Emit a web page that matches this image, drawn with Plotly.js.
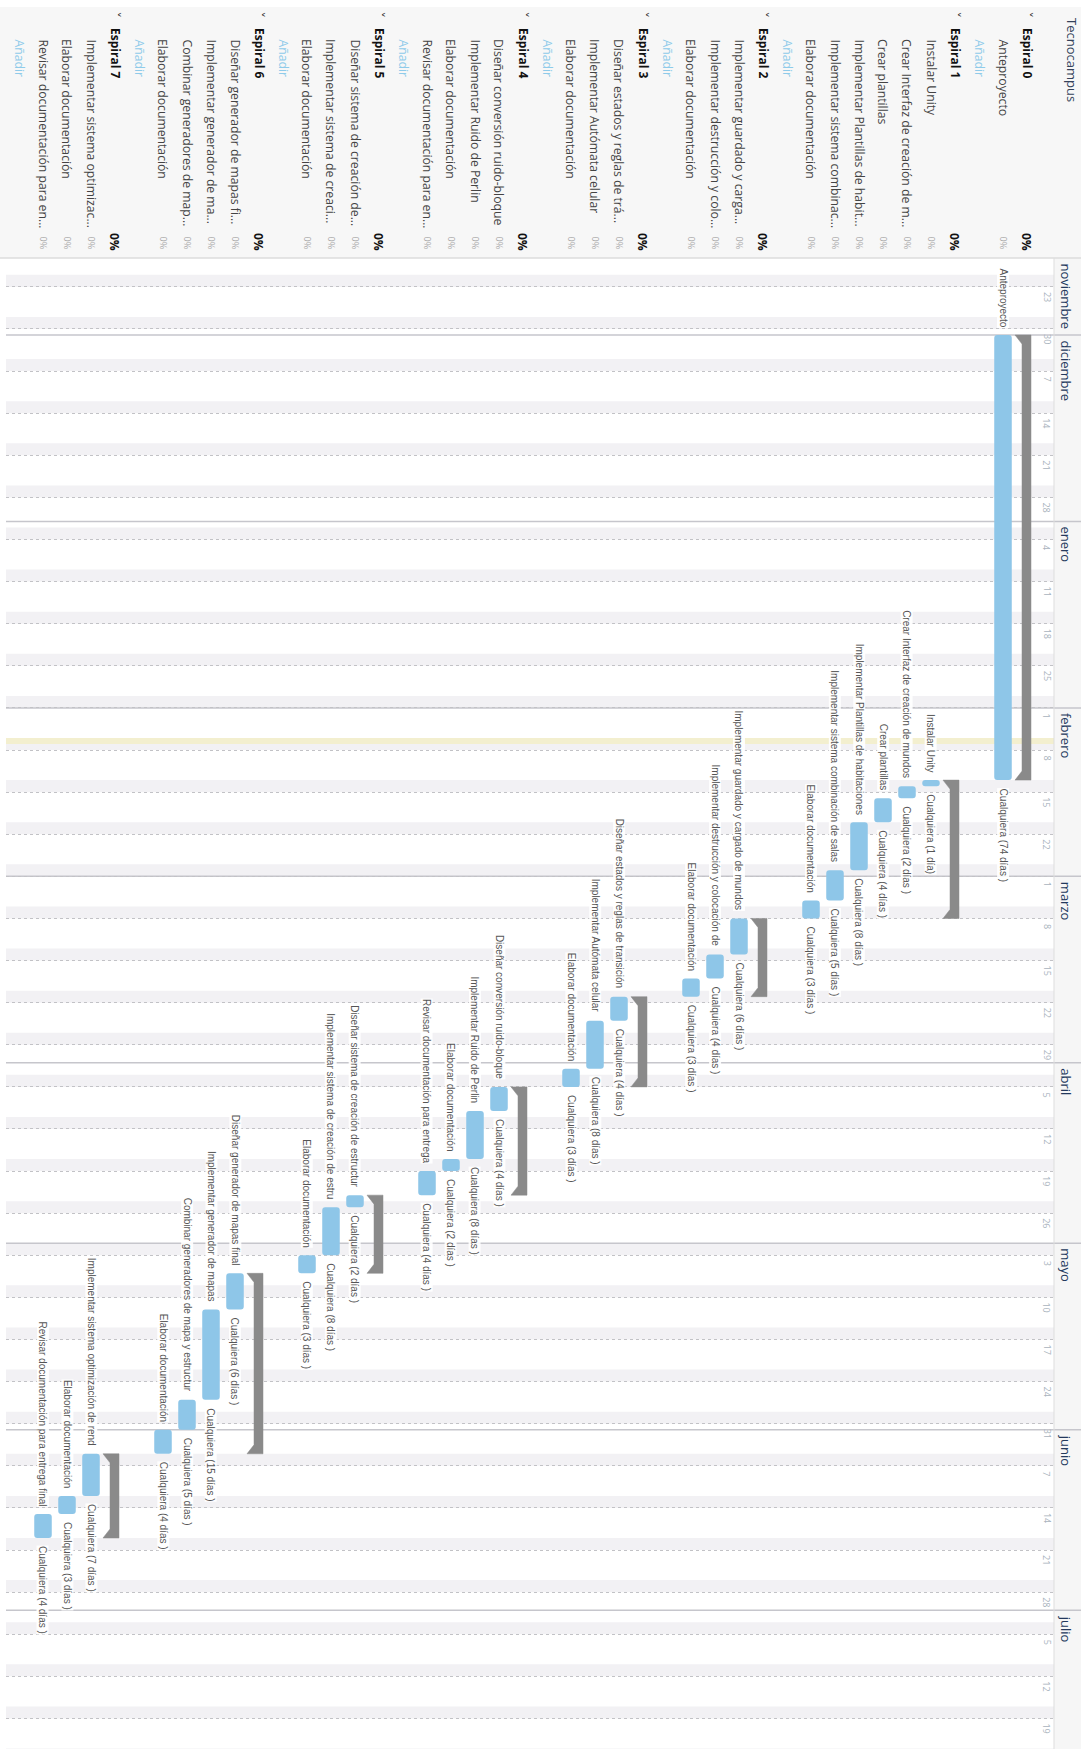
<!DOCTYPE html>
<html>
<head>
<meta charset="utf-8">
<script src="https://cdn.plot.ly/plotly-3.0.1.min.js"></script>
<style>
html,body{margin:0;padding:0;background:#ffffff;}
#chart{width:1081px;height:1749px;}
</style>
</head>
<body>
<div id="chart"></div>
<script>
// ---------------- DATA ----------------
const projectName = 'Tecnocampus';

// Task list rows (top header), from right to left
const rowLabels = [
  'Espiral 0','Anteproyecto','Añadir',
  'Espiral 1','Instalar Unity','Crear Interfaz de creación de m...','Crear plantillas','Implementar Plantillas de habit...','Implementar sistema combinac...','Elaborar documentación','Añadir',
  'Espiral 2','Implementar guardado y carga...','Implementar destrucción y colo...','Elaborar documentación','Añadir',
  'Espiral 3','Diseñar estados y reglas de trá...','Implementar Autómata celular','Elaborar documentación','Añadir',
  'Espiral 4','Diseñar conversión ruido-bloque','Implementar Ruido de Perlin','Elaborar documentación','Revisar documentación para en...','Añadir',
  'Espiral 5','Diseñar sistema de creación de...','Implementar sistema de creaci...','Elaborar documentación','Añadir',
  'Espiral 6','Diseñar generador de mapas fi...','Implementar generador de ma...','Combinar generadores de map...','Elaborar documentación','Añadir',
  'Espiral 7','Implementar sistema optimizac...','Elaborar documentación','Revisar documentación para en...','Añadir'
];
// g = group (Espiral), t = task, a = add link
const rowKinds = [
  'g','t','a',
  'g','t','t','t','t','t','t','a',
  'g','t','t','t','a',
  'g','t','t','t','a',
  'g','t','t','t','t','a',
  'g','t','t','t','a',
  'g','t','t','t','t','a',
  'g','t','t','t','a'
];
const rowPercent = '0%';

// Gantt tasks
const taskRows = [1, 4,5,6,7,8,9, 12,13,14, 17,18,19, 22,23,24,25, 28,29,30, 33,34,35,36, 39,40,41];
const taskNames = [
  'Anteproyecto',
  'Instalar Unity','Crear Interfaz de creación de mundos','Crear plantillas','Implementar Plantillas de habitaciones','Implementar sistema combinación de salas','Elaborar documentación',
  'Implementar guardado y cargado de mundos','Implementar destrucción y colocación de','Elaborar documentación',
  'Diseñar estados y reglas de transición','Implementar Autómata celular','Elaborar documentación',
  'Diseñar conversión ruido-bloque','Implementar Ruido de Perlin','Elaborar documentación','Revisar documentación para entrega',
  'Diseñar sistema de creación de estructur','Implementar sistema de creación de estru','Elaborar documentación',
  'Diseñar generador de mapas final','Implementar generador de mapas','Combinar generadores de mapa y estructur','Elaborar documentación',
  'Implementar sistema optimización de rend','Elaborar documentación','Revisar documentación para entrega final'
];
const taskStarts = [
  '2020-12-01',
  '2021-02-13','2021-02-14','2021-02-16','2021-02-20','2021-02-28','2021-03-05',
  '2021-03-08','2021-03-14','2021-03-18',
  '2021-03-21','2021-03-25','2021-04-02',
  '2021-04-05','2021-04-09','2021-04-17','2021-04-19',
  '2021-04-23','2021-04-25','2021-05-03',
  '2021-05-06','2021-05-12','2021-05-27','2021-06-01',
  '2021-06-05','2021-06-12','2021-06-15'
];
const taskDays = [74, 1,2,4,8,5,3, 6,4,3, 4,8,3, 4,8,2,4, 2,8,3, 6,15,5,4, 7,3,4];
const resourceName = 'Cualquiera';

// Espiral summary rows and number of tasks in each
const groupRows = [0, 3, 11, 16, 21, 27, 32, 38];
const groupTaskCounts = [1, 6, 3, 3, 4, 3, 4, 3];

// Time axis
const monthNames  = ['noviembre','diciembre','enero','febrero','marzo','abril','mayo','junio','julio'];
const monthStarts = ['2020-11-01','2020-12-01','2021-01-01','2021-02-01','2021-03-01','2021-04-01','2021-05-01','2021-06-01','2021-07-01'];
const firstWeekTick = '2020-11-23';
const lastWeekTick  = '2021-07-19';
const todayDate = '2021-02-06';

// ---------------- GEOMETRY / STYLE ----------------
const W = 1081, H = 1749;
const plotL = 6, plotR = 1054, plotT = 258, plotB = 1749;
const row0Px = 1027, rowPx = 24;
const refDate = '2020-12-01', refPx = 335, dayPx = 6.015;
const DAY = 864e5;

function ms(s){ const p = s.split('-').map(Number); return Date.UTC(p[0], p[1]-1, p[2]); }
function ds(t){ return new Date(t).toISOString().slice(0,19).replace('T',' '); }
function pyPaper(p){ return (plotB - p) / (plotB - plotT); }
function pxPaper(p){ return (p - plotL) / (plotR - plotL); }

const xRange = [(row0Px - plotL)/rowPx, (row0Px - plotR)/rowPx];
const refMs = ms(refDate);
const yTop = refMs - (refPx - plotT)/dayPx*DAY;
const yBot = refMs + (plotB - refPx)/dayPx*DAY;

// week ticks (Mondays)
const weekTicks = [];
for (let t = ms(firstWeekTick); t <= ms(lastWeekTick); t += 7*DAY) weekTicks.push(t);

// ---------------- TRACES ----------------
const traces = [];
traces.push({
  type: 'bar', orientation: 'v',
  x: taskRows,
  base: taskStarts,
  y: taskDays.map(d => d*DAY),
  width: 0.73,
  marker: {color: '#8ec6e8', cornerradius: 3, line: {width: 0}},
  hoverinfo: 'skip', showlegend: false
});

const taskEnds = taskStarts.map((s,i) => ms(s) + taskDays[i]*DAY);
let k = 0;
const hPx = 9;
groupRows.forEach((r, g) => {
  const s = ms(taskStarts[k]);
  const e = taskEnds[k + groupTaskCounts[g] - 1];
  k += groupTaskCounts[g];
  const h = hPx/dayPx*DAY;
  const right = r - 4/rowPx, inner = r + 5/rowPx, outer = r + 12/rowPx;
  traces.push({
    type: 'scatter', mode: 'lines',
    x: [right, outer, inner, inner, outer, right, right],
    y: [ds(s), ds(s), ds(s+h), ds(e-h), ds(e), ds(e), ds(s)],
    fill: 'toself', fillcolor: '#8a8a8a',
    line: {color: '#8a8a8a', width: 0.5},
    hoverinfo: 'skip', showlegend: false
  });
});

// ---------------- SHAPES ----------------
const shapes = [];
shapes.push({type:'rect', xref:'paper', yref:'paper', x0:pxPaper(0), x1:pxPaper(W), y0:pyPaper(plotT), y1:pyPaper(7),
  fillcolor:'#f7f7f7', line:{width:0}, layer:'below'});
shapes.push({type:'rect', xref:'paper', yref:'paper', x0:1, x1:pxPaper(W), y0:0, y1:1,
  fillcolor:'#f6f6f6', line:{width:0}, layer:'below'});
for (let t = ms(firstWeekTick) - 7*DAY; t <= yBot + 7*DAY; t += 7*DAY) {
  shapes.push({type:'rect', xref:'paper', yref:'y', x0:0, x1:1, y0:ds(t-2*DAY), y1:ds(t),
    fillcolor:'#f2f1f4', line:{width:0}, layer:'below'});
}
shapes.push({type:'rect', xref:'paper', yref:'y', x0:0, x1:1, y0:todayDate, y1:ds(ms(todayDate)+DAY),
  fillcolor:'#f3efcf', line:{width:0}, layer:'below'});
monthStarts.forEach(m => {
  if (ms(m) < yTop) return;
  shapes.push({type:'line', xref:'paper', yref:'y', x0:0, x1:pxPaper(W), y0:m, y1:m,
    line:{color:'#c6c6cc', width:1.5}, layer:'between'});
});
shapes.push({type:'line', xref:'paper', yref:'paper', x0:pxPaper(0), x1:pxPaper(W), y0:1, y1:1,
  line:{color:'#dddddd', width:1.5}, layer:'above'});
shapes.push({type:'line', xref:'paper', yref:'paper', x0:1, x1:1, y0:0, y1:1,
  line:{color:'#dddddd', width:1}, layer:'above'});

// ---------------- ANNOTATIONS ----------------
const ann = [];
const hdrFont = 'Open Sans, Noto Sans, sans-serif';
const barFont = 'Liberation Sans, Arial, sans-serif';
function A(o){ return Object.assign({showarrow:false, textangle:90, xanchor:'center', yanchor:'top', borderpad:0}, o); }

ann.push(A({xref:'paper', yref:'paper', x:pxPaper(1072), y:pyPaper(17), text:projectName,
  font:{family:hdrFont, size:13, color:'#34425a'}}));

rowLabels.forEach((lab, r) => {
  const kind = rowKinds[r];
  if (kind === 'g') {
    ann.push(A({xref:'x', yref:'paper', x:r, y:pyPaper(10), text:'˅', font:{family:'DejaVu Sans, sans-serif', size:13, color:'#333'}}));
    ann.push(A({xref:'x', yref:'paper', x:r, y:pyPaper(27), text:'<b>'+lab+'</b>', font:{family:hdrFont, size:12, color:'#111'}}));
    ann.push(A({xref:'x', yref:'paper', x:r, y:pyPaper(232), text:'<b>'+rowPercent+'</b>', font:{family:hdrFont, size:12, color:'#111'}}));
  } else if (kind === 't') {
    ann.push(A({xref:'x', yref:'paper', x:r, y:pyPaper(38), text:lab, font:{family:hdrFont, size:12.2, color:'#444444'}}));
    ann.push(A({xref:'x', yref:'paper', x:r, y:pyPaper(235), text:rowPercent, font:{family:hdrFont, size:9, color:'#a8a8a8'}}));
  } else {
    ann.push(A({xref:'x', yref:'paper', x:r, y:pyPaper(38), text:lab, font:{family:hdrFont, size:12.2, color:'#8fcbea'}}));
  }
});

taskRows.forEach((r, i) => {
  ann.push(A({xref:'x', yref:'y', x:r, y:taskStarts[i], yanchor:'bottom', yshift:7, text:taskNames[i],
    bgcolor:'rgba(255,255,255,0.9)', font:{family:barFont, size:10, color:'#555'}}));
  const n = taskDays[i];
  const t = n === 1 ? resourceName + ' (1 día)' : resourceName + ' (' + n + ' días )';
  ann.push(A({xref:'x', yref:'y', x:r, y:ds(taskEnds[i]), yanchor:'top', yshift:-7, text:t,
    bgcolor:'rgba(255,255,255,0.9)', font:{family:barFont, size:10, color:'#555'}}));
});

monthNames.forEach((m, i) => {
  const t = ms(monthStarts[i]);
  if (t < yTop) {
    ann.push(A({xref:'paper', yref:'paper', x:pxPaper(1066), y:1, yshift:-4, text:m, font:{family:hdrFont, size:13, color:'#23395d'}}));
  } else {
    ann.push(A({xref:'paper', yref:'y', x:pxPaper(1066), y:monthStarts[i], yshift:-4, text:m, font:{family:hdrFont, size:13, color:'#23395d'}}));
  }
});
weekTicks.forEach(t => {
  ann.push(A({xref:'paper', yref:'y', x:pxPaper(1047), y:ds(t), yshift:-4, text:String(new Date(t).getUTCDate()),
    font:{family:hdrFont, size:9, color:'#a9b3bd'}}));
});

// ---------------- LAYOUT ----------------
const layout = {
  width: W, height: H, autosize: false,
  margin: {l: plotL, r: W - plotR, t: plotT, b: H - plotB, pad: 0},
  paper_bgcolor: '#ffffff', plot_bgcolor: '#ffffff',
  showlegend: false,
  xaxis: {type:'linear', range:xRange, showgrid:false, zeroline:false, showticklabels:false, ticks:'', showline:false, fixedrange:true},
  yaxis: {type:'date', range:[ds(yBot), ds(yTop)], tickvals: weekTicks.map(ds), showticklabels:false, ticks:'',
    showgrid:true, griddash:'dot', gridcolor:'#c2c2c6', gridwidth:1, zeroline:false, showline:false, fixedrange:true},
  barmode: 'overlay',
  shapes: shapes,
  annotations: ann
};

Plotly.newPlot('chart', traces, layout, {staticPlot:true, displayModeBar:false});
</script>
</body>
</html>
